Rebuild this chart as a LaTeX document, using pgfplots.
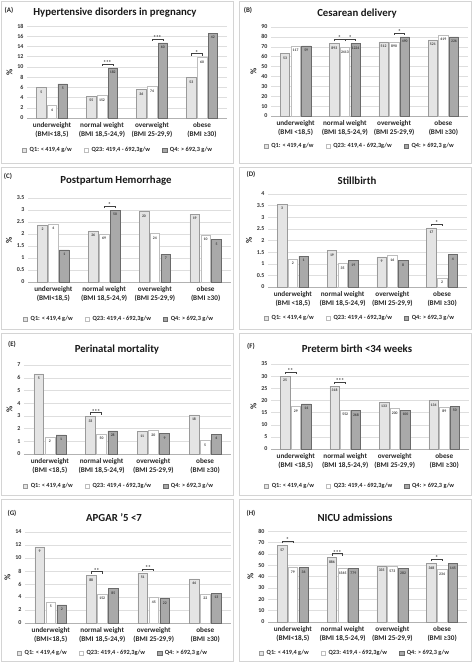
\documentclass[border=0pt]{standalone}
\usepackage{fontspec}
\setmainfont{Carlito}
\usepackage{pgfplots}
\pgfplotsset{compat=1.18}
\usepackage{pgfplotstable}
\definecolor{qone}{HTML}{E4E4E4}
\definecolor{qoneb}{HTML}{9A9A9A}
\definecolor{qtwob}{HTML}{BDBDBD}
\definecolor{qfour}{HTML}{A9A9A9}
\definecolor{qfourb}{HTML}{6A6A6A}
\definecolor{panelb}{HTML}{D4D4D4}

\pgfplotstableread{
x q1 q23 q4 n1 n23 n4
0 6.0 2.4 6.7 5 4 5
1 4.3 4.4 9.8 55 152 182
2 5.6 6.2 14.7 36 74 60
3 7.9 11.8 16.6 53 60 42
}\tabA
\pgfplotstableread{
x q1 q23 q4 n1 n23 n4
0 63 71 71 53 117 59
1 73.5 69.5 73.5 893 2413 1224
2 75 75 80 512 890 490
3 77 82 80 521 419 226
}\tabB
\pgfplotstableread{
x q1 q23 q4 n1 n23 n4
0 2.38 2.41 1.34 2 4 1
1 2.13 2.00 3.00 26 69 50
2 2.93 2.03 1.16 20 24 7
3 2.83 1.95 1.77 19 10 5
}\tabC
\pgfplotstableread{
x q1 q23 q4 n1 n23 n4
0 3.57 1.21 1.33 3 2 1
1 1.57 1.01 1.14 19 35 19
2 1.30 1.36 1.14 9 16 8
3 2.54 0.39 1.40 17 2 4
}\tabD
\pgfplotstableread{
x q1 q23 q4 n1 n23 n4
0 6.30 1.34 1.50 5 2 1
1 2.94 1.57 1.81 33 50 28
2 1.76 1.84 1.63 11 20 9
3 3.07 1.05 1.57 18 5 4
}\tabE
\pgfplotstableread{
x q1 q23 q4 n1 n23 n4
0 30.0 17.6 18.6 25 29 14
1 25.9 16.0 16.0 318 552 268
2 19.3 16.6 16.0 133 200 100
3 20.0 17.3 17.7 134 89 50
}\tabF
\pgfplotstableread{
x q1 q23 q4 n1 n23 n4
0 11.7 3.2 2.8 9 5 2
1 7.3 4.5 5.3 88 152 85
2 7.7 3.9 3.75 51 45 22
3 6.8 4.5 4.6 44 22 13
}\tabG
\pgfplotstableread{
x q1 q23 q4 n1 n23 n4
0 67.4 47.8 47.8 57 79 36
1 56.6 46.9 47.2 886 1565 779
2 49.3 48.7 46.9 335 573 282
3 51.6 46.3 51.3 348 234 145
}\tabH

\pgfplotsset{
 mypanel/.style={
  scale only axis, anchor=south west,
  xmin=-0.5, xmax=3.5, ymin=0,
  xtick={0,1,2,3},
  axis x line*=bottom, axis y line*=left,
  y axis line style={draw=none},
  x axis line style={draw=black!30, line width=0.6pt},
  major tick length=0pt,
  ymajorgrids, grid style={draw=black!13, line width=0.4pt},
  tick label style={font=\bfseries\fontsize{6}{7}\selectfont, text=black!80},
  /pgf/number format/assume math mode=true,
  xticklabel style={align=center, font=\bfseries\fontsize{7.2}{8.8}\selectfont, text=black!85, yshift=-1pt},
  ylabel={\%}, ylabel style={font=\bfseries\fontsize{8.5}{9}\selectfont, text=black!85, yshift=-2pt},
  point meta=explicit symbolic,
  nodes near coords,
  every node near coord/.append style={anchor=north, yshift=-2.5pt, font=\bfseries\fontsize{3.8}{4}\selectfont, text=black!75, inner sep=0.5pt},
  legend columns=3,
  legend cell align=left,
  legend style={draw=none, fill=none, anchor=center, font=\bfseries\fontsize{6.3}{7}\selectfont, text=black!85,
    /tikz/every even column/.append style={column sep=10pt}, /tikz/every odd column/.append style={column sep=1pt}},
 },
 qa/.style={ybar, bar width=0.19, bar shift=0pt, fill=qone, draw=qoneb, line width=0.5pt,
    legend image code/.code={\draw[fill=qone, draw=qoneb, line width=0.4pt] (0pt,-2.2pt) rectangle (4.4pt,2.2pt);}},
 qb/.style={ybar, bar width=0.19, bar shift=0pt, fill=white, draw=qtwob, line width=0.5pt,
    legend image code/.code={\draw[fill=white, draw=qtwob, line width=0.4pt] (0pt,-2.2pt) rectangle (4.4pt,2.2pt);}},
 qc/.style={ybar, bar width=0.19, bar shift=0pt, fill=qfour, draw=qfourb, line width=0.5pt,
    legend image code/.code={\draw[fill=qfour, draw=qfourb, line width=0.4pt] (0pt,-2.2pt) rectangle (4.4pt,2.2pt);}},
}

\newcommand\bars[1]{%
 \addplot[qa] table[x expr=\thisrow{x}-0.215,y=q1,meta=n1]{#1};
 \addlegendentry{Q1: < 419,4 g/w}
 \addplot[qb] table[x=x,y=q23,meta=n23]{#1};
 \addlegendentry{Q23: 419,4 - 692,3g/w}
 \addplot[qc] table[x expr=\thisrow{x}+0.215,y=q4,meta=n4]{#1};
 \addlegendentry{Q4: > 692,3 g/w}
}
\newcommand\sig[4]{%
 \draw[black!75, line width=0.5pt] ([yshift=2pt]axis cs:#1,#3) -- ([yshift=4pt]axis cs:#1,#3) -- ([yshift=4pt]axis cs:#2,#3) -- ([yshift=2pt]axis cs:#2,#3);
 \node[anchor=south, inner sep=0pt, font=\bfseries\fontsize{5.5}{6}\selectfont, text=black!80] at ([yshift=3.2pt]axis cs:{(#1+#2)/2},#3) {#4};
}
\newcommand\lett[2]{\node[font=\bfseries\fontsize{7}{8}\selectfont, text=black!85] at (#1) {#2};}

\begin{document}
\begin{tikzpicture}
\useasboundingbox (0,0) rectangle (474pt,-665pt);
\foreach \c in {0,1} \foreach \r in {0,1,2,3}
  \draw[panelb, line width=0.7pt] ({\c*238pt+1.5pt}, {-\r*166pt-1.5pt}) rectangle ++(232pt,-161.5pt);

% ---------- A
\lett{9pt,-10pt}{(A)}
\node[font=\bfseries\fontsize{10.8}{12}\selectfont, text=black!90] at (115pt,-13pt) {Hypertensive disorders in pregnancy};
\begin{axis}[mypanel, at={(27pt,-118pt)}, width=200pt, height=92pt, ymax=18, ytick distance=2,
  xticklabels={{underweight\\(BMI<18,5)},{normal weight\\(BMI 18,5-24,9)},{overweight\\(BMI 25-29,9)},{obese\\(BMI ≥30)}},
  legend style={at={(axis description cs:0.455,-0.348)}}]
\bars{\tabA}
\sig{1}{1.215}{9.8}{***}
\sig{2}{2.215}{14.7}{***}
\sig{2.785}{3}{11.8}{*}
\end{axis}

% ---------- B
\lett{248pt,-10pt}{(B)}
\node[font=\bfseries\fontsize{10.8}{12}\selectfont, text=black!90] at (357pt,-14pt) {Cesarean delivery};
\begin{axis}[mypanel, at={(271pt,-116pt)}, width=197pt, height=89pt, ymax=90, ytick distance=10,
  xticklabels={{underweight\\(BMI <18,5)},{normal weight\\(BMI 18,5-24,9)},{overweight\\(BMI 25-29,9)},{obese\\(BMI ≥30)}},
  legend style={at={(axis description cs:0.45,-0.337)}}]
\bars{\tabB}
\sig{0.785}{1}{73.5}{*}
\sig{1}{1.215}{73.5}{*}
\sig{2}{2.215}{80}{*}
\end{axis}

% ---------- C
\lett{8pt,-176pt}{(C)}
\node[font=\bfseries\fontsize{10.8}{12}\selectfont, text=black!90] at (116pt,-181pt) {Postpartum Hemorrhage};
\begin{axis}[mypanel, at={(28pt,-282pt)}, width=203pt, height=84pt, ymax=3.5, ytick distance=0.5,
  xticklabels={{underweight\\(BMI<18,5)},{normal weight\\(BMI 18,5-24,9)},{overweight\\(BMI 25-29,9)},{obese\\(BMI ≥30)}},
  legend style={at={(axis description cs:0.448,-0.44)}}]
\bars{\tabC}
\sig{1}{1.215}{3.0}{*}
\end{axis}

% ---------- D
\lett{251pt,-174pt}{(D)}
\node[font=\bfseries\fontsize{10.8}{12}\selectfont, text=black!90] at (357pt,-181pt) {Stillbirth};
\begin{axis}[mypanel, at={(268pt,-287pt)}, width=199pt, height=93pt, ymax=4, ytick distance=0.5,
  xticklabels={{underweight\\(BMI <18,5)},{normal weight\\(BMI 18,5-24,9)},{overweight\\(BMI 25-29,9)},{obese\\(BMI ≥30)}},
  legend style={at={(axis description cs:0.462,-0.333)}}]
\bars{\tabD}
\sig{2.785}{3}{2.54}{*}
\end{axis}

% ---------- E
\lett{12pt,-344pt}{(E)}
\node[font=\bfseries\fontsize{10.8}{12}\selectfont, text=black!90] at (117pt,-350pt) {Perinatal mortality};
\begin{axis}[mypanel, at={(24pt,-454pt)}, width=207pt, height=89pt, ymax=7, ytick distance=1,
  xticklabels={{underweight\\(BMI <18,5)},{normal weight\\(BMI 18,5-24,9)},{overweight\\(BMI 25-29,9)},{obese\\(BMI ≥30)}},
  legend style={at={(axis description cs:0.459,-0.36)}}]
\bars{\tabE}
\sig{0.785}{1}{2.94}{***}
\end{axis}

% ---------- F
\lett{251pt,-346pt}{(F)}
\node[font=\bfseries\fontsize{10.8}{12}\selectfont, text=black!90] at (357pt,-349pt) {Preterm birth <34 weeks};
\begin{axis}[mypanel, at={(271pt,-449pt)}, width=198pt, height=85pt, ymax=35, ytick distance=5,
  xticklabels={{underweight\\(BMI <18,5)},{normal weight\\(BMI 18,5-24,9)},{overweight\\(BMI 25-29,9)},{obese\\(BMI ≥30)}},
  legend style={at={(axis description cs:0.45,-0.435)}}]
\bars{\tabF}
\sig{-0.215}{0}{30.0}{**}
\sig{0.785}{1}{25.9}{***}
\end{axis}

% ---------- G
\lett{12pt,-513pt}{(G)}
\node[font=\bfseries\fontsize{10.8}{12}\selectfont, text=black!90] at (114pt,-518pt) {APGAR '5 <7};
\begin{axis}[mypanel, at={(25pt,-623pt)}, width=206pt, height=91pt, ymax=14, ytick distance=2,
  xticklabels={{underweight\\(BMI<18,5)},{normal weight\\(BMI 18,5-24,9)},{overweight\\(BMI 25-29,9)},{obese\\(BMI ≥30)}},
  legend style={at={(axis description cs:0.427,-0.33)}}]
\bars{\tabG}
\sig{0.785}{1}{7.3}{**}
\sig{1.785}{2}{7.7}{**}
\end{axis}

% ---------- H
\lett{251pt,-513pt}{(H)}
\node[font=\bfseries\fontsize{10.8}{12}\selectfont, text=black!90] at (355pt,-518pt) {NICU admissions};
\begin{axis}[mypanel, at={(268pt,-622pt)}, width=199pt, height=91pt, ymax=80, ytick distance=10,
  xticklabels={{underweight\\(BMI<18,5)},{normal weight\\(BMI 18,5-24,9)},{overweight\\(BMI 25-29,9)},{obese\\(BMI ≥30)}},
  legend style={at={(axis description cs:0.437,-0.34)}}]
\bars{\tabH}
\sig{-0.215}{0}{67.4}{*}
\sig{0.785}{1}{56.6}{***}
\sig{2.785}{3}{51.6}{*}
\end{axis}
\end{tikzpicture}
\end{document}
